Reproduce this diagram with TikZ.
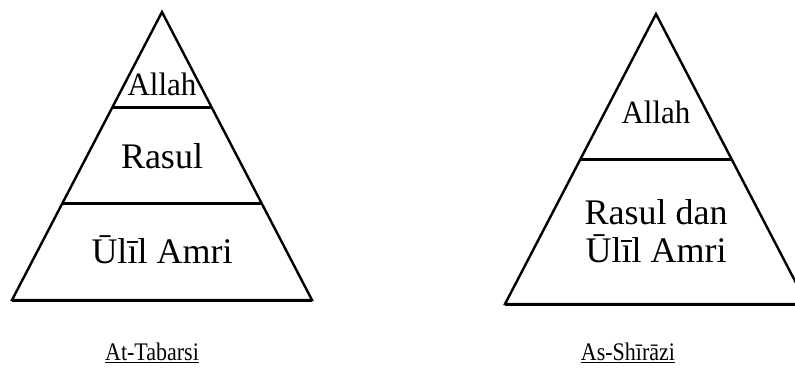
\documentclass[tikz,border=0pt]{standalone}
\usepackage{fontspec}
\setmainfont{Liberation Serif}
\usetikzlibrary{calc}
\begin{document}
\begin{tikzpicture}[x=1pt,y=-1pt,
  side/.style={line width=2.4pt,line join=miter,fill=white},
  level/.style={line width=3pt},
  lbl/.style={inner sep=0pt,anchor=base},
  big/.style={lbl,font=\fontsize{36}{36}\selectfont},
  small/.style={lbl,font=\fontsize{31}{31}\selectfont},
  captxt/.style={lbl,font=\fontsize{22}{22}\selectfont}]
\useasboundingbox (0,0) rectangle (795,376);
\fill[white] (0,0) rectangle (795,376);
% left pyramid
\coordinate (LA) at (162,12);
\coordinate (LL) at (12,300);
\coordinate (LR) at (312,300);
\draw[side] (LA) -- (LL) -- (LR) -- cycle;
\draw[level] ($(LA)!0.3333!(LL)$) -- ($(LA)!0.3333!(LR)$);
\draw[level] ($(LA)!0.6632!(LL)$) -- ($(LA)!0.6632!(LR)$);
\draw[level] (LL) -- (LR);
\node[small] (l1) at (162,95) {\scalebox{1}[1.05]{Allah}};
\node[big] (l2) at (162,168) {Rasul};
\node[big] (l3) at (162,263) {Ūlīl Amri};
% right pyramid
\coordinate (RA) at (656,14);
\coordinate (RL) at (505,304);
\coordinate (RR) at (807,304);
\draw[side] (RA) -- (RL) -- (RR) -- cycle;
\draw[level] ($(RA)!0.5034!(RL)$) -- ($(RA)!0.5034!(RR)$);
\draw[level] (RL) -- (RR);
\node[small] (r1) at (656,123) {\scalebox{1}[1.05]{Allah}};
\node[big] (r2) at (656,224) {Rasul dan};
\node[big] (r3) at (656,262) {Ūlīl Amri};
% captions
\node[captxt] (c1) at (152,360) {\scalebox{1}[1.15]{At-Tabarsi}};
\draw[line width=1.8pt] ([yshift=-2.5pt]c1.base west) -- ([yshift=-2.5pt]c1.base east);
\node[captxt] (c2) at (628,360) {\scalebox{1}[1.15]{As-Shīrāzi}};
\draw[line width=1.8pt] ([yshift=-2.5pt]c2.base west) -- ([yshift=-2.5pt]c2.base east);
\end{tikzpicture}
\end{document}
